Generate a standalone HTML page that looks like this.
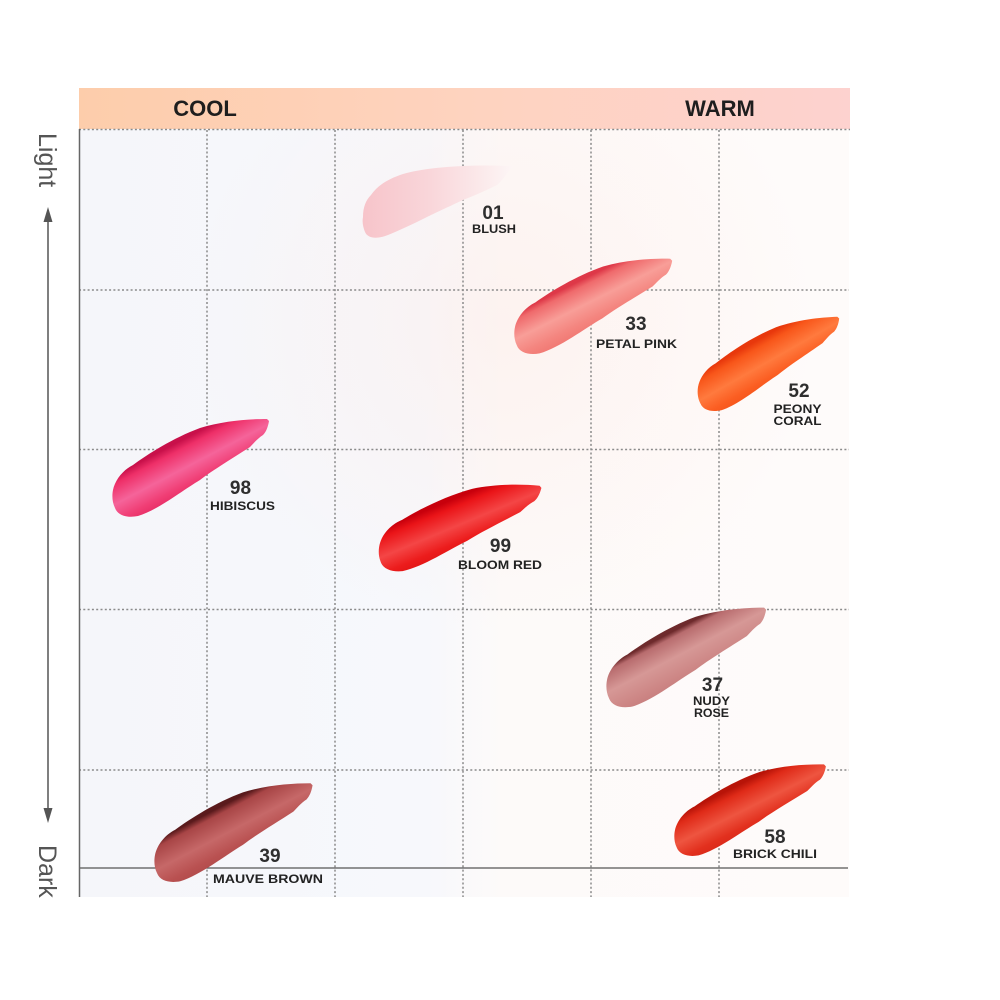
<!DOCTYPE html>
<html><head><meta charset="utf-8"><style>
html,body{margin:0;padding:0;background:#fff;}
svg{display:block;}
.num{font-family:"Liberation Sans",sans-serif;font-weight:bold;font-size:19px;fill:#2e2e2e;text-anchor:middle;}
.nm{font-family:"Liberation Sans",sans-serif;font-weight:bold;font-size:12px;fill:#222;text-anchor:middle;}
.hd{font-family:"Liberation Sans",sans-serif;font-weight:bold;font-size:22px;fill:#1e1e1e;text-anchor:middle;}
.ax{font-family:"Liberation Sans",sans-serif;font-size:25px;fill:#555;}
</style></head><body>
<svg width="1000" height="1000" viewBox="0 0 1000 1000" xmlns="http://www.w3.org/2000/svg">
<defs>
  <linearGradient id="bg" x1="0" y1="0" x2="1" y2="0">
    <stop offset="0" stop-color="#f5f6fa"/>
    <stop offset="0.45" stop-color="#f7f8fc"/>
    <stop offset="0.55" stop-color="#fdfaf9"/>
    <stop offset="1" stop-color="#fefbfa"/>
  </linearGradient>
  <radialGradient id="glow" cx="0.55" cy="0.25" r="0.4">
    <stop offset="0" stop-color="#fde9e4" stop-opacity="0.45"/>
    <stop offset="1" stop-color="#fde9e4" stop-opacity="0"/>
  </radialGradient>
  <linearGradient id="hdr" x1="0" y1="0" x2="1" y2="0">
    <stop offset="0" stop-color="#fdcdab"/>
    <stop offset="0.5" stop-color="#fed3bf"/>
    <stop offset="1" stop-color="#fdd2cf"/>
  </linearGradient>

  <linearGradient id="gBlush" x1="0" y1="0" x2="1" y2="0">
    <stop offset="0" stop-color="#f7c4ca"/>
    <stop offset="0.45" stop-color="#f9d6da"/>
    <stop offset="0.8" stop-color="#fbeaeb"/>
    <stop offset="1" stop-color="#fdf6f6"/>
  </linearGradient>
  <linearGradient id="gPetal" gradientUnits="userSpaceOnUse" x1="75" y1="-53" x2="99" y2="-7">
    <stop offset="0" stop-color="#de3848"/>
    <stop offset="0.12" stop-color="#ef6a6c"/>
    <stop offset="0.45" stop-color="#f89e98"/>
    <stop offset="0.75" stop-color="#f4857f"/>
    <stop offset="1" stop-color="#f07570"/>
  </linearGradient>
  <linearGradient id="gPeony" gradientUnits="userSpaceOnUse" x1="75" y1="-53" x2="99" y2="-7">
    <stop offset="0" stop-color="#e8380c"/>
    <stop offset="0.15" stop-color="#f8561a"/>
    <stop offset="0.5" stop-color="#ff7a3e"/>
    <stop offset="0.8" stop-color="#fb5e22"/>
    <stop offset="1" stop-color="#f5541a"/>
  </linearGradient>
  <linearGradient id="gHib" gradientUnits="userSpaceOnUse" x1="75" y1="-53" x2="99" y2="-7">
    <stop offset="0" stop-color="#c8104a"/>
    <stop offset="0.15" stop-color="#ee2f68"/>
    <stop offset="0.5" stop-color="#f5649a"/>
    <stop offset="0.8" stop-color="#f03d74"/>
    <stop offset="1" stop-color="#e52b63"/>
  </linearGradient>
  <linearGradient id="gBloom" gradientUnits="userSpaceOnUse" x1="75" y1="-53" x2="99" y2="-7">
    <stop offset="0" stop-color="#c8000c"/>
    <stop offset="0.15" stop-color="#ea1418"/>
    <stop offset="0.5" stop-color="#f44646"/>
    <stop offset="0.8" stop-color="#ec1c1c"/>
    <stop offset="1" stop-color="#e01414"/>
  </linearGradient>
  <linearGradient id="gNudy" gradientUnits="userSpaceOnUse" x1="75" y1="-53" x2="99" y2="-7">
    <stop offset="0" stop-color="#6e2a2c"/>
    <stop offset="0.1" stop-color="#b86c6e"/>
    <stop offset="0.45" stop-color="#d69896"/>
    <stop offset="0.8" stop-color="#cd8685"/>
    <stop offset="1" stop-color="#c67d7d"/>
  </linearGradient>
  <linearGradient id="gBrick" gradientUnits="userSpaceOnUse" x1="75" y1="-53" x2="99" y2="-7">
    <stop offset="0" stop-color="#b81408"/>
    <stop offset="0.15" stop-color="#df2a18"/>
    <stop offset="0.5" stop-color="#ee5540"/>
    <stop offset="0.8" stop-color="#e2301e"/>
    <stop offset="1" stop-color="#d82818"/>
  </linearGradient>
  <linearGradient id="gMauve" gradientUnits="userSpaceOnUse" x1="75" y1="-53" x2="99" y2="-7">
    <stop offset="0" stop-color="#5a1a1c"/>
    <stop offset="0.12" stop-color="#a84546"/>
    <stop offset="0.5" stop-color="#c66868"/>
    <stop offset="0.8" stop-color="#b95151"/>
    <stop offset="1" stop-color="#b04a4a"/>
  </linearGradient>
</defs>

<rect width="1000" height="1000" fill="#fff"/>
<!-- chart background -->
<rect x="79" y="129" width="770" height="768" fill="url(#bg)"/>
<rect x="79" y="129" width="770" height="768" fill="url(#glow)"/>

<!-- header -->
<rect x="79" y="88" width="771" height="41" fill="url(#hdr)"/>
<text class="hd" x="205" y="116">COOL</text>
<text class="hd" x="720" y="116">WARM</text>

<!-- grid -->
<g stroke="#8a8a8a" stroke-width="1.5" stroke-dasharray="2 2.3" fill="none">
  <line x1="79" y1="129.5" x2="850" y2="129.5"/>
  <line x1="79" y1="290" x2="849" y2="290"/>
  <line x1="79" y1="449.5" x2="849" y2="449.5"/>
  <line x1="79" y1="609.5" x2="849" y2="609.5"/>
  <line x1="79" y1="770" x2="849" y2="770"/>
  <line x1="207" y1="130" x2="207" y2="897"/>
  <line x1="335" y1="130" x2="335" y2="897"/>
  <line x1="463" y1="130" x2="463" y2="897"/>
  <line x1="591" y1="130" x2="591" y2="897"/>
  <line x1="719" y1="130" x2="719" y2="897"/>
</g>
<line x1="79" y1="868" x2="848" y2="868" stroke="#555" stroke-width="1.2"/>
<line x1="79.5" y1="129" x2="79.5" y2="897" stroke="#666" stroke-width="1.5"/>

<!-- left axis -->
<text class="ax" transform="translate(39,133) rotate(90)">Light</text>
<text class="ax" transform="translate(39,845) rotate(90)">Dark</text>
<line x1="48" y1="220" x2="48" y2="810" stroke="#555" stroke-width="1.5"/>
<polygon points="48,207 43.5,222 52.5,222" fill="#555"/>
<polygon points="48,823 43.5,808 52.5,808" fill="#555"/>

<!-- swatches (shape relative to leftmost blob point) -->
<g transform="translate(363,217)">
  <path fill="url(#gBlush)" d="M 0 0 C 0 -10, 3 -17, 8 -22 C 15 -32, 25 -38, 40 -43 C 60 -49, 100 -53, 150 -51 C 145 -45, 140 -37, 134 -32 C 120 -25, 110 -21, 100 -17 C 85 -10, 70 -3, 64 0 C 50 7, 35 14, 25 18 C 15 22, 5 22, 2 15 C 0 10, -1 5, 0 0 Z"/>
</g>
<g transform="translate(515,327) rotate(1)">
  <path fill="url(#gPetal)" d="M 0 0 C 2 -10, 10 -20, 20 -25 C 35 -36, 60 -52, 87 -62 C 110 -69, 135 -71, 154 -71 L 156 -69 C 155 -63, 153 -58, 150 -55 C 145 -52, 140 -46, 137 -43 C 120 -32, 100 -20, 87 -10 C 70 0, 45 20, 25 26 C 15 28, 5 26, 2 18 C -1 12, -1 5, 0 0 Z"/>
</g>
<g transform="translate(698,387) rotate(-2) scale(0.92)">
  <path fill="url(#gPeony)" d="M 0 0 C 2 -10, 10 -20, 20 -25 C 35 -36, 60 -52, 87 -62 C 110 -69, 135 -71, 154 -71 L 156 -69 C 155 -63, 153 -58, 150 -55 C 145 -52, 140 -46, 137 -43 C 120 -32, 100 -20, 87 -10 C 70 0, 45 20, 25 26 C 15 28, 5 26, 2 18 C -1 12, -1 5, 0 0 Z"/>
</g>
<g transform="translate(113,490)">
  <path fill="url(#gHib)" d="M 0 0 C 2 -10, 10 -20, 20 -25 C 35 -36, 60 -52, 87 -62 C 110 -69, 135 -71, 154 -71 L 156 -69 C 155 -63, 153 -58, 150 -55 C 145 -52, 140 -46, 137 -43 C 120 -32, 100 -20, 87 -10 C 70 0, 45 20, 25 26 C 15 28, 5 26, 2 18 C -1 12, -1 5, 0 0 Z"/>
</g>
<g transform="translate(380,543) rotate(5)">
  <path fill="url(#gBloom)" d="M 0 0 C 2 -10, 10 -20, 20 -25 C 35 -36, 60 -52, 87 -62 C 110 -69, 135 -71, 154 -71 L 156 -69 C 155 -63, 153 -58, 150 -55 C 145 -52, 140 -46, 137 -43 C 120 -32, 100 -20, 87 -10 C 70 0, 45 20, 25 26 C 15 28, 5 26, 2 18 C -1 12, -1 5, 0 0 Z"/>
</g>
<g transform="translate(607,680) scale(1.02)">
  <path fill="url(#gNudy)" d="M 0 0 C 2 -10, 10 -20, 20 -25 C 35 -36, 60 -52, 87 -62 C 110 -69, 135 -71, 154 -71 L 156 -69 C 155 -63, 153 -58, 150 -55 C 145 -52, 140 -46, 137 -43 C 120 -32, 100 -20, 87 -10 C 70 0, 45 20, 25 26 C 15 28, 5 26, 2 18 C -1 12, -1 5, 0 0 Z"/>
</g>
<g transform="translate(675,830) rotate(1) scale(0.96)">
  <path fill="url(#gBrick)" d="M 0 0 C 2 -10, 10 -20, 20 -25 C 35 -36, 60 -52, 87 -62 C 110 -69, 135 -71, 154 -71 L 156 -69 C 155 -63, 153 -58, 150 -55 C 145 -52, 140 -46, 137 -43 C 120 -32, 100 -20, 87 -10 C 70 0, 45 20, 25 26 C 15 28, 5 26, 2 18 C -1 12, -1 5, 0 0 Z"/>
</g>
<g transform="translate(155,855) scale(1.01)">
  <path fill="url(#gMauve)" d="M 0 0 C 2 -10, 10 -20, 20 -25 C 35 -36, 60 -52, 87 -62 C 110 -69, 135 -71, 154 -71 L 156 -69 C 155 -63, 153 -58, 150 -55 C 145 -52, 140 -46, 137 -43 C 120 -32, 100 -20, 87 -10 C 70 0, 45 20, 25 26 C 15 28, 5 26, 2 18 C -1 12, -1 5, 0 0 Z"/>
</g>

<!-- labels -->
<text class="num" x="493" y="219">01</text>
<text class="nm" x="494" y="233" textLength="44" lengthAdjust="spacingAndGlyphs">BLUSH</text>

<text class="num" x="636" y="330">33</text>
<text class="nm" x="636.5" y="348" textLength="81" lengthAdjust="spacingAndGlyphs">PETAL PINK</text>

<text class="num" x="799" y="397">52</text>
<text class="nm" x="797.5" y="413" textLength="48" lengthAdjust="spacingAndGlyphs">PEONY</text>
<text class="nm" x="797.5" y="425" textLength="48" lengthAdjust="spacingAndGlyphs">CORAL</text>

<text class="num" x="240.5" y="494">98</text>
<text class="nm" x="242.5" y="510" textLength="65" lengthAdjust="spacingAndGlyphs">HIBISCUS</text>

<text class="num" x="500.5" y="552">99</text>
<text class="nm" x="500" y="569" textLength="84" lengthAdjust="spacingAndGlyphs">BLOOM RED</text>

<text class="num" x="712.5" y="691">37</text>
<text class="nm" x="711.5" y="705" textLength="37" lengthAdjust="spacingAndGlyphs">NUDY</text>
<text class="nm" x="711.5" y="717" textLength="35" lengthAdjust="spacingAndGlyphs">ROSE</text>

<text class="num" x="775" y="843">58</text>
<text class="nm" x="775" y="858" textLength="84" lengthAdjust="spacingAndGlyphs">BRICK CHILI</text>

<text class="num" x="270" y="862">39</text>
<text class="nm" x="268" y="883" textLength="110" lengthAdjust="spacingAndGlyphs">MAUVE BROWN</text>
</svg>
</body></html>
